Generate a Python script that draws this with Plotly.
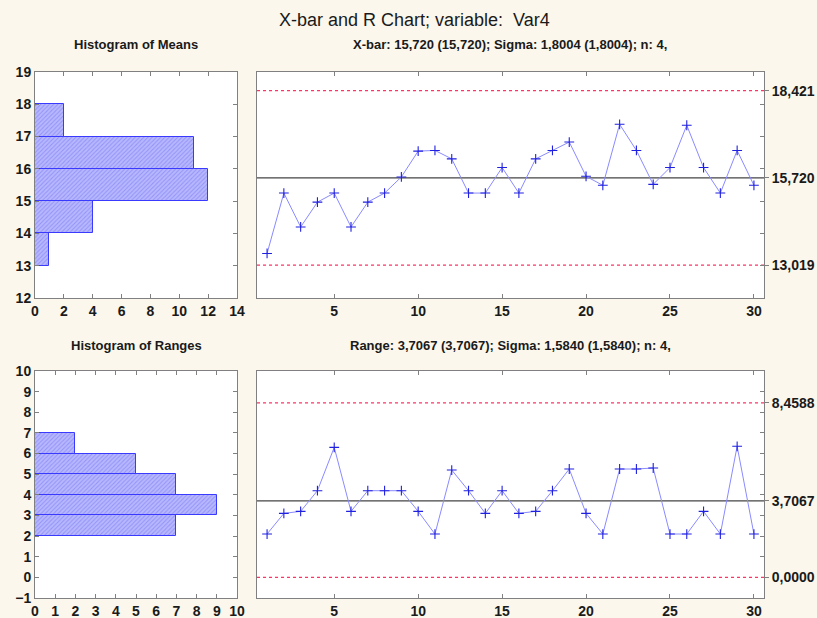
import plotly.graph_objects as go

# ---- data ----
samples = list(range(1, 31))
means = [13.38, 15.25, 14.20, 14.97, 15.25, 14.20, 14.97, 15.25, 15.75, 16.55,
         16.57, 16.31, 15.25, 15.25, 16.04, 15.25, 16.31, 16.57, 16.83, 15.77,
         15.49, 17.38, 16.57, 15.52, 16.04, 17.35, 16.04, 15.25, 16.57, 15.49]
ranges = [2.1, 3.1, 3.2, 4.2, 6.3, 3.2, 4.2, 4.2, 4.2, 3.2,
          2.1, 5.2, 4.2, 3.1, 4.2, 3.1, 3.2, 4.2, 5.25, 3.1,
          2.1, 5.25, 5.25, 5.3, 2.1, 2.1, 3.2, 2.1, 6.35, 2.1]
xbar_limits = [18.421, 15.720, 13.019]
xbar_limit_labels = ["18,421", "15,720", "13,019"]
r_limits = [8.4588, 3.7067, 0.0]
r_limit_labels = ["8,4588", "3,7067", "0,0000"]
mean_bin_centers = [13.5, 14.5, 15.5, 16.5, 17.5]
mean_bin_counts = [1, 4, 12, 11, 2]
range_bin_centers = [2.5, 3.5, 4.5, 5.5, 6.5]
range_bin_counts = [7, 9, 7, 5, 2]

title = "X-bar and R Chart; variable:  Var4"
sub_hist_means = "Histogram of Means"
sub_xbar = "X-bar: 15,720 (15,720); Sigma: 1,8004 (1,8004); n: 4,"
sub_hist_ranges = "Histogram of Ranges"
sub_range = "Range: 3,7067 (3,7067); Sigma: 1,5840 (1,5840); n: 4,"

# ---- styling ----
W, H = 817, 618
BG = "#FBF7EC"
FONT = "Liberation Sans"
LINE_C = "#8A8AFF"
MARK_C = "#2020E0"
CL_C = "#444444"
LIM_C = "#FF3366"
BAR_FILL = "#A8A8FF"
BAR_LINE = "#3A3AFF"

def px_x(a, b):
    return [a / W, b / W]

def px_y(top, bottom):
    return [1 - bottom / H, 1 - top / H]

fig = go.Figure()

hatch = dict(shape="/", fgcolor="#7070F0", bgcolor="#B8B8FF", size=3, solidity=0.35)

fig.add_trace(go.Bar(
    y=mean_bin_centers, x=mean_bin_counts, orientation="h", width=1.0,
    marker=dict(color=BAR_FILL, line=dict(color=BAR_LINE, width=1), pattern=hatch),
    xaxis="x", yaxis="y", showlegend=False))

fig.add_trace(go.Bar(
    y=range_bin_centers, x=range_bin_counts, orientation="h", width=1.0,
    marker=dict(color=BAR_FILL, line=dict(color=BAR_LINE, width=1), pattern=hatch),
    xaxis="x3", yaxis="y3", showlegend=False))

def add_hline(val, xa, ya, color, dash, width):
    fig.add_trace(go.Scatter(
        x=[0.4, 30.6], y=[val, val], mode="lines",
        line=dict(color=color, dash=dash, width=width),
        xaxis=xa, yaxis=ya, showlegend=False, hoverinfo="skip"))

add_hline(xbar_limits[0], "x2", "y2", LIM_C, "dot", 1.3)
add_hline(xbar_limits[2], "x2", "y2", LIM_C, "dot", 1.3)
add_hline(xbar_limits[1], "x2", "y2", CL_C, "solid", 1.3)
add_hline(r_limits[0], "x4", "y4", LIM_C, "dot", 1.3)
add_hline(r_limits[2], "x4", "y4", LIM_C, "dot", 1.3)
add_hline(r_limits[1], "x4", "y4", CL_C, "solid", 1.3)

fig.add_trace(go.Scatter(
    x=samples, y=means, mode="lines+markers",
    line=dict(color=LINE_C, width=1),
    marker=dict(symbol="cross-thin", size=7, line=dict(color=MARK_C, width=1.1)),
    xaxis="x2", yaxis="y2", showlegend=False))

fig.add_trace(go.Scatter(
    x=samples, y=ranges, mode="lines+markers",
    line=dict(color=LINE_C, width=1),
    marker=dict(symbol="cross-thin", size=7, line=dict(color=MARK_C, width=1.1)),
    xaxis="x4", yaxis="y4", showlegend=False))

tickfont = dict(family=FONT, size=14, color="#1a1a1a", weight="bold")
axis_common = dict(showgrid=False, zeroline=False, showline=True, linecolor="#808080",
                   linewidth=1, mirror="ticks", ticks="inside", ticklen=4,
                   tickcolor="#808080", tickfont=tickfont, fixedrange=True,
                   automargin=False)

top_y = px_y(72, 298)
bot_y = px_y(371, 598)
hist_x = px_x(35, 237)
chart_x = px_x(257, 764)

fig.update_layout(
    width=W, height=H, autosize=False,
    margin=dict(l=0, r=0, t=0, b=0, pad=0),
    paper_bgcolor=BG, plot_bgcolor="white",
    bargap=0,
    xaxis=dict(domain=hist_x, anchor="y", range=[0, 14], dtick=2, **axis_common),
    yaxis=dict(domain=top_y, anchor="x", range=[12, 19], dtick=1, **axis_common),
    xaxis2=dict(domain=chart_x, anchor="y2", range=[0.4, 30.6], tickvals=[5, 10, 15, 20, 25, 30],
                **axis_common),
    yaxis2=dict(domain=top_y, anchor="x2", range=[12, 19], side="right",
                tickvals=xbar_limits, ticktext=xbar_limit_labels,
                minor=dict(tickvals=[13, 14, 15, 16, 17, 18], ticks="inside", ticklen=4,
                           tickcolor="#808080"),
                **{**axis_common, "ticks": "outside", "mirror": True}),
    xaxis3=dict(domain=hist_x, anchor="y3", range=[0, 10], dtick=1, **axis_common),
    yaxis3=dict(domain=bot_y, anchor="x3", range=[-1, 10], dtick=1, **axis_common),
    xaxis4=dict(domain=chart_x, anchor="y4", range=[0.4, 30.6], tickvals=[5, 10, 15, 20, 25, 30],
                **axis_common),
    yaxis4=dict(domain=bot_y, anchor="x4", range=[-1, 10], side="right",
                tickvals=r_limits, ticktext=r_limit_labels,
                minor=dict(tickvals=[-1, 1, 2, 3, 4, 5, 6, 7, 8, 9], ticks="inside", ticklen=4,
                           tickcolor="#808080"),
                **{**axis_common, "ticks": "outside", "mirror": True}),
)

def ann(text, xc, yc, size, bold):
    fig.add_annotation(text=text, x=xc / W, y=1 - yc / H, xref="paper", yref="paper",
                       showarrow=False, xanchor="center", yanchor="middle",
                       font=dict(family=FONT, size=size, color="#1a1a1a",
                                 weight="bold" if bold else "normal"))

ann(title, 415, 20, 18, False)
ann(sub_hist_means, 136, 45, 13, True)
ann(sub_xbar, 510, 45, 13, True)
ann(sub_hist_ranges, 136, 345, 13, True)
ann(sub_range, 510, 345, 13, True)

fig.write_html(
    "out.html",
    config={"displayModeBar": False},
    post_script="document.body.style.margin='0';document.body.style.overflow='hidden';",
)
